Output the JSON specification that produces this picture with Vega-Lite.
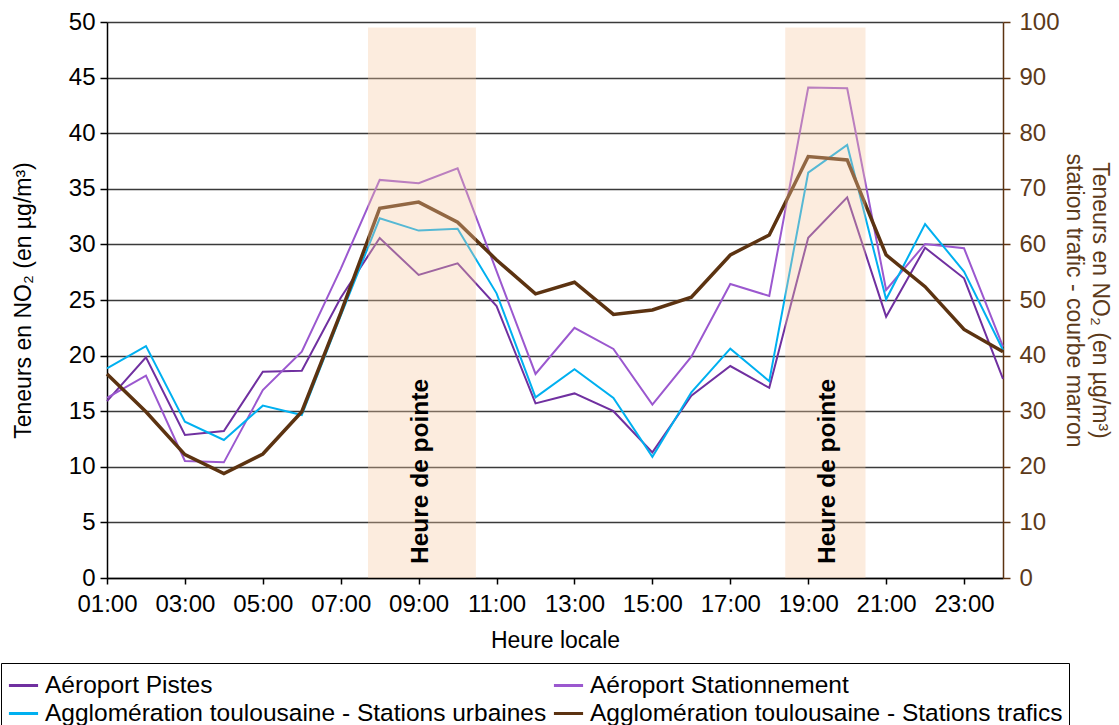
{
  "$schema": "https://vega.github.io/schema/vega-lite/v6.json",
  "width": 896,
  "height": 556,
  "autosize": "none",
  "padding": {"left": 107, "top": 22, "right": 116, "bottom": 147},
  "config": {
    "font": "Arial, Liberation Sans, sans-serif",
    "view": {"stroke": null},
    "axis": {
      "labelFont": "Arial, Liberation Sans, sans-serif",
      "titleFont": "Arial, Liberation Sans, sans-serif",
      "labelFontSize": 24,
      "titleFontSize": 23,
      "titleFontWeight": "normal",
      "labelColor": "black",
      "titleColor": "black",
      "domainColor": "black",
      "domainWidth": 1.5,
      "tickColor": "black",
      "tickWidth": 1.5
    },
    "legend": {
      "labelFont": "Arial, Liberation Sans, sans-serif",
      "labelFontSize": 24.5,
      "labelColor": "black",
      "labelLimit": 0,
      "symbolType": "stroke",
      "symbolSize": 850,
      "symbolStrokeWidth": 3,
      "labelOffset": 5,
      "strokeColor": "black",
      "fillColor": "white",
      "padding": 6,
      "columnPadding": 0,
      "rowPadding": 0
    }
  },
  "datasets": {
    "gauche": [
      {"heure": 1, "serie": "Aéroport Pistes", "valeur": 15.9},
      {"heure": 2, "serie": "Aéroport Pistes", "valeur": 19.85},
      {"heure": 3, "serie": "Aéroport Pistes", "valeur": 12.86},
      {"heure": 4, "serie": "Aéroport Pistes", "valeur": 13.22},
      {"heure": 5, "serie": "Aéroport Pistes", "valeur": 18.55},
      {"heure": 6, "serie": "Aéroport Pistes", "valeur": 18.64},
      {"heure": 7, "serie": "Aéroport Pistes", "valeur": 25.2},
      {"heure": 8, "serie": "Aéroport Pistes", "valeur": 30.57},
      {"heure": 9, "serie": "Aéroport Pistes", "valeur": 27.25},
      {"heure": 10, "serie": "Aéroport Pistes", "valeur": 28.3},
      {"heure": 11, "serie": "Aéroport Pistes", "valeur": 24.45},
      {"heure": 12, "serie": "Aéroport Pistes", "valeur": 15.7},
      {"heure": 13, "serie": "Aéroport Pistes", "valeur": 16.6},
      {"heure": 14, "serie": "Aéroport Pistes", "valeur": 15.0},
      {"heure": 15, "serie": "Aéroport Pistes", "valeur": 11.3},
      {"heure": 16, "serie": "Aéroport Pistes", "valeur": 16.4},
      {"heure": 17, "serie": "Aéroport Pistes", "valeur": 19.06},
      {"heure": 18, "serie": "Aéroport Pistes", "valeur": 17.1},
      {"heure": 19, "serie": "Aéroport Pistes", "valeur": 30.6},
      {"heure": 20, "serie": "Aéroport Pistes", "valeur": 34.23},
      {"heure": 21, "serie": "Aéroport Pistes", "valeur": 23.5},
      {"heure": 22, "serie": "Aéroport Pistes", "valeur": 29.7},
      {"heure": 23, "serie": "Aéroport Pistes", "valeur": 26.95},
      {"heure": 24, "serie": "Aéroport Pistes", "valeur": 17.9},
      {"heure": 1, "serie": "Aéroport Stationnement", "valeur": 16.2},
      {"heure": 2, "serie": "Aéroport Stationnement", "valeur": 18.2},
      {"heure": 3, "serie": "Aéroport Stationnement", "valeur": 10.52},
      {"heure": 4, "serie": "Aéroport Stationnement", "valeur": 10.4},
      {"heure": 5, "serie": "Aéroport Stationnement", "valeur": 16.9},
      {"heure": 6, "serie": "Aéroport Stationnement", "valeur": 20.35},
      {"heure": 7, "serie": "Aéroport Stationnement", "valeur": 27.8},
      {"heure": 8, "serie": "Aéroport Stationnement", "valeur": 35.8},
      {"heure": 9, "serie": "Aéroport Stationnement", "valeur": 35.5},
      {"heure": 10, "serie": "Aéroport Stationnement", "valeur": 36.84},
      {"heure": 11, "serie": "Aéroport Stationnement", "valeur": 27.6},
      {"heure": 12, "serie": "Aéroport Stationnement", "valeur": 18.35},
      {"heure": 13, "serie": "Aéroport Stationnement", "valeur": 22.5},
      {"heure": 14, "serie": "Aéroport Stationnement", "valeur": 20.6},
      {"heure": 15, "serie": "Aéroport Stationnement", "valeur": 15.6},
      {"heure": 16, "serie": "Aéroport Stationnement", "valeur": 19.9},
      {"heure": 17, "serie": "Aéroport Stationnement", "valeur": 26.44},
      {"heure": 18, "serie": "Aéroport Stationnement", "valeur": 25.36},
      {"heure": 19, "serie": "Aéroport Stationnement", "valeur": 44.1},
      {"heure": 20, "serie": "Aéroport Stationnement", "valeur": 44.04},
      {"heure": 21, "serie": "Aéroport Stationnement", "valeur": 25.9},
      {"heure": 22, "serie": "Aéroport Stationnement", "valeur": 30.04},
      {"heure": 23, "serie": "Aéroport Stationnement", "valeur": 29.65},
      {"heure": 24, "serie": "Aéroport Stationnement", "valeur": 20.8},
      {"heure": 1, "serie": "Agglomération toulousaine - Stations urbaines", "valeur": 18.86},
      {"heure": 2, "serie": "Agglomération toulousaine - Stations urbaines", "valeur": 20.86},
      {"heure": 3, "serie": "Agglomération toulousaine - Stations urbaines", "valeur": 14.06},
      {"heure": 4, "serie": "Agglomération toulousaine - Stations urbaines", "valeur": 12.41},
      {"heure": 5, "serie": "Agglomération toulousaine - Stations urbaines", "valeur": 15.5},
      {"heure": 6, "serie": "Agglomération toulousaine - Stations urbaines", "valeur": 14.66},
      {"heure": 7, "serie": "Agglomération toulousaine - Stations urbaines", "valeur": 23.6},
      {"heure": 8, "serie": "Agglomération toulousaine - Stations urbaines", "valeur": 32.35},
      {"heure": 9, "serie": "Agglomération toulousaine - Stations urbaines", "valeur": 31.24},
      {"heure": 10, "serie": "Agglomération toulousaine - Stations urbaines", "valeur": 31.4},
      {"heure": 11, "serie": "Agglomération toulousaine - Stations urbaines", "valeur": 25.6},
      {"heure": 12, "serie": "Agglomération toulousaine - Stations urbaines", "valeur": 16.25},
      {"heure": 13, "serie": "Agglomération toulousaine - Stations urbaines", "valeur": 18.77},
      {"heure": 14, "serie": "Agglomération toulousaine - Stations urbaines", "valeur": 16.2},
      {"heure": 15, "serie": "Agglomération toulousaine - Stations urbaines", "valeur": 10.9},
      {"heure": 16, "serie": "Agglomération toulousaine - Stations urbaines", "valeur": 16.7},
      {"heure": 17, "serie": "Agglomération toulousaine - Stations urbaines", "valeur": 20.62},
      {"heure": 18, "serie": "Agglomération toulousaine - Stations urbaines", "valeur": 17.7},
      {"heure": 19, "serie": "Agglomération toulousaine - Stations urbaines", "valeur": 36.45},
      {"heure": 20, "serie": "Agglomération toulousaine - Stations urbaines", "valeur": 38.94},
      {"heure": 21, "serie": "Agglomération toulousaine - Stations urbaines", "valeur": 25.06},
      {"heure": 22, "serie": "Agglomération toulousaine - Stations urbaines", "valeur": 31.83},
      {"heure": 23, "serie": "Agglomération toulousaine - Stations urbaines", "valeur": 27.55},
      {"heure": 24, "serie": "Agglomération toulousaine - Stations urbaines", "valeur": 20.5}
    ],
    "trafic": [
      {"heure": 1, "serie": "Agglomération toulousaine - Stations trafics", "valeur": 36.7},
      {"heure": 2, "serie": "Agglomération toulousaine - Stations trafics", "valeur": 29.9},
      {"heure": 3, "serie": "Agglomération toulousaine - Stations trafics", "valeur": 22.2},
      {"heure": 4, "serie": "Agglomération toulousaine - Stations trafics", "valeur": 18.8},
      {"heure": 5, "serie": "Agglomération toulousaine - Stations trafics", "valeur": 22.3},
      {"heure": 6, "serie": "Agglomération toulousaine - Stations trafics", "valeur": 29.9},
      {"heure": 7, "serie": "Agglomération toulousaine - Stations trafics", "valeur": 47.7},
      {"heure": 8, "serie": "Agglomération toulousaine - Stations trafics", "valeur": 66.5},
      {"heure": 9, "serie": "Agglomération toulousaine - Stations trafics", "valeur": 67.6},
      {"heure": 10, "serie": "Agglomération toulousaine - Stations trafics", "valeur": 64.0},
      {"heure": 11, "serie": "Agglomération toulousaine - Stations trafics", "valeur": 57.2},
      {"heure": 12, "serie": "Agglomération toulousaine - Stations trafics", "valeur": 51.1},
      {"heure": 13, "serie": "Agglomération toulousaine - Stations trafics", "valeur": 53.2},
      {"heure": 14, "serie": "Agglomération toulousaine - Stations trafics", "valeur": 47.4},
      {"heure": 15, "serie": "Agglomération toulousaine - Stations trafics", "valeur": 48.2},
      {"heure": 16, "serie": "Agglomération toulousaine - Stations trafics", "valeur": 50.5},
      {"heure": 17, "serie": "Agglomération toulousaine - Stations trafics", "valeur": 58.1},
      {"heure": 18, "serie": "Agglomération toulousaine - Stations trafics", "valeur": 61.7},
      {"heure": 19, "serie": "Agglomération toulousaine - Stations trafics", "valeur": 75.8},
      {"heure": 20, "serie": "Agglomération toulousaine - Stations trafics", "valeur": 75.2},
      {"heure": 21, "serie": "Agglomération toulousaine - Stations trafics", "valeur": 58.1},
      {"heure": 22, "serie": "Agglomération toulousaine - Stations trafics", "valeur": 52.4},
      {"heure": 23, "serie": "Agglomération toulousaine - Stations trafics", "valeur": 44.7},
      {"heure": 24, "serie": "Agglomération toulousaine - Stations trafics", "valeur": 40.7}
    ],
    "pointe": [
      {"debut": 7.7, "fin": 10.47, "bas": 0, "haut": 49.5, "centre": 9.06, "milieu": 9.58, "texte": "Heure de pointe"},
      {"debut": 18.41, "fin": 20.47, "bas": 0, "haut": 49.5, "centre": 19.5, "milieu": 9.58, "texte": "Heure de pointe"}
    ]
  },
  "layer": [
    {
      "data": {"name": "gauche"},
      "mark": {"type": "line", "strokeWidth": 2},
      "encoding": {
        "x": {
          "field": "heure", "type": "quantitative",
          "scale": {"domain": [1, 24], "nice": false, "zero": false},
          "axis": {
            "title": "Heure locale",
            "values": [1, 3, 5, 7, 9, 11, 13, 15, 17, 19, 21, 23],
            "labelExpr": "(datum.value < 10 ? '0' : '') + datum.value + ':00'",
            "grid": false, "tickSize": 6, "labelPadding": 8, "titlePadding": 13, "labelFlush": false
          }
        },
        "y": {
          "field": "valeur", "type": "quantitative",
          "scale": {"domain": [0, 50], "nice": false},
          "axis": {
            "orient": "left",
            "title": "Teneurs en NO₂ (en µg/m³)",
            "values": [0, 5, 10, 15, 20, 25, 30, 35, 40, 45, 50],
            "grid": true, "gridColor": "#3a3a3a", "gridWidth": 1.4,
            "tickSize": 7, "labelPadding": 5, "titlePadding": 33
          }
        },
        "color": {
          "field": "serie", "type": "nominal",
          "scale": {
            "domain": ["Aéroport Pistes", "Aéroport Stationnement", "Agglomération toulousaine - Stations urbaines", "Agglomération toulousaine - Stations trafics"],
            "range": ["#7030a0", "#9b58cf", "#00b0f0", "#5c3311"]
          },
          "legend": {"title": null, "orient": "none", "legendX": -106, "legendY": 641, "columns": 2, "direction": "horizontal"}
        }
      }
    },
    {
      "data": {"name": "trafic"},
      "mark": {"type": "line", "strokeWidth": 3.5},
      "encoding": {
        "x": {
          "field": "heure", "type": "quantitative",
          "scale": {"domain": [1, 24], "nice": false, "zero": false},
          "axis": {
            "title": "Heure locale",
            "values": [1, 3, 5, 7, 9, 11, 13, 15, 17, 19, 21, 23],
            "labelExpr": "(datum.value < 10 ? '0' : '') + datum.value + ':00'",
            "grid": false, "tickSize": 6, "labelPadding": 8, "titlePadding": 13, "labelFlush": false
          }
        },
        "y": {
          "field": "valeur", "type": "quantitative",
          "scale": {"domain": [0, 100], "nice": false},
          "axis": {
            "orient": "right",
            "title": ["Teneurs en NO₂ (en µg/m³)", "station trafic - courbe marron"],
            "values": [0, 10, 20, 30, 40, 50, 60, 70, 80, 90, 100],
            "grid": false,
            "labelColor": "#5c3a1a", "titleColor": "#5c3a1a", "domainColor": "#5c3311", "tickColor": "#5c3311",
            "tickSize": 7, "labelPadding": 9, "titlePadding": 2, "titleLineHeight": 26
          }
        },
        "color": {"field": "serie", "type": "nominal"}
      }
    },
    {
      "data": {"name": "pointe"},
      "layer": [
        {
          "mark": {"type": "rect", "fill": "#f7c9a0", "opacity": 0.35},
          "encoding": {
            "x": {"field": "debut", "type": "quantitative", "scale": {"domain": [1, 24], "nice": false, "zero": false}, "axis": {
              "title": "Heure locale",
              "values": [1, 3, 5, 7, 9, 11, 13, 15, 17, 19, 21, 23],
              "labelExpr": "(datum.value < 10 ? '0' : '') + datum.value + ':00'",
              "grid": false, "tickSize": 6, "labelPadding": 8, "titlePadding": 13, "labelFlush": false
            }},
            "x2": {"field": "fin"},
            "y": {"field": "bas", "type": "quantitative", "scale": {"domain": [0, 50], "nice": false}, "axis": null},
            "y2": {"field": "haut"}
          }
        },
        {
          "mark": {"type": "text", "angle": 270, "align": "center", "baseline": "middle", "fontWeight": "bold", "fontSize": 24.5, "color": "black", "font": "Arial, Liberation Sans, sans-serif"},
          "encoding": {
            "x": {"field": "centre", "type": "quantitative"},
            "y": {"field": "milieu", "type": "quantitative", "scale": {"domain": [0, 50], "nice": false}, "axis": null},
            "text": {"field": "texte"}
          }
        }
      ]
    }
  ],
  "resolve": {"scale": {"y": "independent"}}
}
